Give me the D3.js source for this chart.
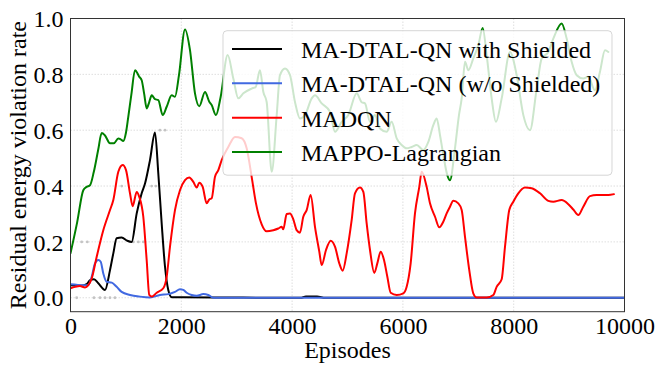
<!DOCTYPE html>
<html>
<head>
<meta charset="utf-8">
<script src="https://cdn.jsdelivr.net/npm/d3@7"></script>
</head>
<body style="margin:0">
<svg id="chart" width="657" height="365" style="font-family: 'Liberation Serif'"></svg>
<script>
// ---- data -------------------------------------------------------------
const seriesNames = [
  "MA-DTAL-QN with Shielded",
  "MA-DTAL-QN (w/o Shielded)",
  "MADQN",
  "MAPPO-Lagrangian"
];
const seriesColors = ["#000000", "#4169e1", "#ff0000", "#008000"];

const xTicks = [0, 2000, 4000, 6000, 8000, 10000];
const yTicks = [0.0, 0.2, 0.4, 0.6, 0.8, 1.0];

// MA-DTAL-QN with Shielded
const shieldedEpisodes = [0, 200, 300, 352, 424, 502, 623, 713, 773, 833, 923, 1025, 1104, 1195, 1285, 1345, 1435, 1525, 1585, 1646, 1706, 1765, 1827, 1900, 2600, 4150, 4250, 4450, 4600, 10000];
const shieldedRate     = [0.045, 0.043, 0.05, 0.063, 0.066, 0.052, 0.028, 0.099, 0.159, 0.213, 0.216, 0.204, 0.2, 0.302, 0.374, 0.409, 0.493, 0.592, 0.445, 0.266, 0.111, 0.028, 0.002, 0.002, 0.001, 0.0, 0.004, 0.004, 0.0, 0.0];

// MA-DTAL-QN (w/o Shielded)
const unshieldedEpisodes = [0, 231, 321, 383, 442, 502, 545, 592, 653, 744, 833, 923, 1074, 1254, 1435, 1615, 1765, 1886, 1976, 2036, 2097, 2187, 2278, 2397, 2487, 2578, 10000];
const unshieldedRate     = [0.048, 0.045, 0.045, 0.075, 0.123, 0.135, 0.129, 0.087, 0.057, 0.054, 0.039, 0.021, 0.01, 0.004, 0.001, 0.01, 0.013, 0.021, 0.03, 0.028, 0.018, 0.01, 0.007, 0.013, 0.01, 0.0, 0.0];

// MADQN
const madqnEpisodes = [0, 81, 171, 262, 321, 383, 473, 592, 713, 773, 863, 942, 1002, 1074, 1122, 1195, 1242, 1314, 1375, 1422, 1466, 1556, 1675, 1736, 1796, 1886, 1976, 2067, 2144, 2217, 2278, 2325, 2386, 2458, 2505, 2548, 2608, 2668, 2729, 2848, 2969, 3090, 3180, 3270, 3348, 3451, 3541, 3661, 3751, 3812, 3841, 3902, 3962, 4022, 4082, 4142, 4202, 4263, 4335, 4413, 4491, 4534, 4612, 4697, 4774, 4852, 4913, 4985, 5075, 5135, 5226, 5286, 5346, 5406, 5484, 5538, 5599, 5659, 5719, 5779, 5888, 6008, 6068, 6140, 6218, 6296, 6339, 6429, 6489, 6580, 6657, 6729, 6790, 6850, 6910, 7000, 7061, 7121, 7198, 7270, 7332, 7512, 7632, 7692, 7783, 7843, 7920, 7993, 8083, 8204, 8324, 8475, 8625, 8715, 8866, 8986, 9076, 9166, 9256, 9377, 9497, 9617, 9707, 9810];
const madqnRate     = [0.034, 0.039, 0.042, 0.037, 0.045, 0.069, 0.147, 0.242, 0.314, 0.35, 0.451, 0.475, 0.457, 0.374, 0.328, 0.379, 0.361, 0.29, 0.135, 0.01, 0.004, 0.018, 0.034, 0.075, 0.183, 0.314, 0.385, 0.421, 0.431, 0.415, 0.395, 0.412, 0.397, 0.338, 0.352, 0.356, 0.433, 0.457, 0.493, 0.54, 0.576, 0.571, 0.535, 0.433, 0.338, 0.263, 0.238, 0.242, 0.248, 0.254, 0.245, 0.3, 0.302, 0.281, 0.242, 0.233, 0.29, 0.314, 0.368, 0.254, 0.165, 0.117, 0.171, 0.204, 0.183, 0.123, 0.097, 0.159, 0.278, 0.374, 0.395, 0.379, 0.266, 0.171, 0.089, 0.123, 0.165, 0.135, 0.075, 0.018, 0.01, 0.016, 0.039, 0.123, 0.302, 0.397, 0.451, 0.397, 0.338, 0.29, 0.252, 0.272, 0.302, 0.326, 0.347, 0.338, 0.314, 0.218, 0.099, 0.016, 0.001, 0.001, 0.01, 0.039, 0.066, 0.183, 0.314, 0.344, 0.374, 0.395, 0.392, 0.374, 0.347, 0.344, 0.35, 0.335, 0.316, 0.296, 0.326, 0.364, 0.368, 0.368, 0.368, 0.371];

// MAPPO-Lagrangian
const mappoEpisodes = [0, 120, 231, 290, 352, 420, 500, 563, 620, 713, 780, 863, 900, 953, 1000, 1043, 1100, 1164, 1242, 1285, 1330, 1375, 1420, 1466, 1525, 1585, 1664, 1736, 1827, 1886, 1958, 2067, 2157, 2247, 2325, 2428, 2505, 2548, 2626, 2711, 2837, 2939, 3029, 3120, 3270, 3343, 3420, 3481, 3541, 3632, 3722, 3781, 3872, 3962, 4052, 4142, 4233, 4354, 4413, 4534, 4684, 4774, 4895, 5015, 5166, 5256, 5316, 5406, 5496, 5586, 5707, 5797, 5888, 5978, 6068, 6159, 6249, 6369, 6459, 6549, 6610, 6670, 6730, 6800, 6850, 6940, 7012, 7061, 7121, 7181, 7271, 7361, 7440, 7512, 7602, 7680, 7783, 7933, 8054, 8174, 8294, 8415, 8505, 8625, 8715, 8866, 8956, 9046, 9137, 9257, 9347, 9467, 9557, 9648, 9708];
const mappoRate     = [0.159, 0.27, 0.385, 0.397, 0.403, 0.45, 0.53, 0.59, 0.582, 0.553, 0.553, 0.57, 0.568, 0.561, 0.59, 0.648, 0.73, 0.815, 0.791, 0.779, 0.73, 0.678, 0.70, 0.725, 0.711, 0.708, 0.654, 0.684, 0.725, 0.72, 0.797, 0.961, 0.887, 0.732, 0.686, 0.737, 0.702, 0.69, 0.654, 0.72, 0.869, 0.785, 0.714, 0.732, 0.749, 0.755, 0.815, 0.737, 0.701, 0.451, 0.654, 0.797, 0.821, 0.797, 0.701, 0.642, 0.654, 0.714, 0.725, 0.696, 0.666, 0.594, 0.63, 0.654, 0.732, 0.70, 0.696, 0.63, 0.654, 0.606, 0.594, 0.63, 0.571, 0.547, 0.535, 0.54, 0.547, 0.529, 0.558, 0.618, 0.642, 0.582, 0.511, 0.44, 0.421, 0.535, 0.654, 0.714, 0.845, 0.815, 0.857, 0.904, 0.966, 0.869, 0.714, 0.63, 0.714, 0.88, 0.797, 0.654, 0.6, 0.749, 0.857, 0.88, 0.928, 0.982, 0.928, 0.845, 0.797, 0.785, 0.791, 0.743, 0.809, 0.886, 0.88];

// faint grey sample markers in the early episodes
const sampleEpisodes = [112, 424, 532, 623, 713, 803, 202, 303, 1134, 1224, 1314, 925, 1465, 1540, 1615, 1706];
const sampleRate     = [0.0, 0.0, 0.0, 0.0, 0.0, 0.0, 0.2, 0.2, 0.2, 0.2, 0.2, 0.4, 0.4, 0.4, 0.6, 0.6];

// ---- layout -----------------------------------------------------------
const plot = { left: 70.5, right: 624.5, top: 18.5, bottom: 311.7 };
const svg = d3.select("#chart").style("display", "block");

// all labels use the same serif face
function serif(sel) {
  return sel
    .attr("font-family", "Liberation Serif")
    .attr("font-size", 24)
    .style("font-family", '"Liberation Serif"')
    .style("font-size", "24px")
    .attr("fill", "#000");
}

const x = d3.scaleLinear().domain([0, 10000]).range([plot.left, plot.right]);
const y = d3.scaleLinear().domain([-0.05, 1.0]).range([plot.bottom, plot.top]);

svg.append("defs").append("clipPath").attr("id", "plot-clip")
  .append("rect")
  .attr("x", plot.left).attr("y", plot.top)
  .attr("width", plot.right - plot.left).attr("height", plot.bottom - plot.top);

// grid
const grid = svg.append("g");
grid.selectAll("line.gx").data(xTicks).join("line")
  .attr("x1", d => x(d)).attr("x2", d => x(d))
  .attr("y1", plot.top).attr("y2", plot.bottom)
  .attr("stroke", "#d6d6d6").attr("stroke-width", 0.8).attr("stroke-dasharray", "1.5,1.5");
grid.selectAll("line.gy").data(yTicks).join("line")
  .attr("x1", plot.left).attr("x2", plot.right)
  .attr("y1", d => y(d)).attr("y2", d => y(d))
  .attr("stroke", "#d6d6d6").attr("stroke-width", 0.8).attr("stroke-dasharray", "1.5,1.5");

// grey sample markers
svg.append("g").selectAll("circle").data(sampleEpisodes).join("circle")
  .attr("cx", (d) => x(d))
  .attr("cy", (d, i) => y(sampleRate[i]))
  .attr("r", 1.4)
  .attr("fill", "#c4c4c4");

// series lines
const series = [
  { ep: shieldedEpisodes, v: shieldedRate },
  { ep: unshieldedEpisodes, v: unshieldedRate },
  { ep: madqnEpisodes, v: madqnRate },
  { ep: mappoEpisodes, v: mappoRate }
];
const line = d3.line()
  .x(d => x(d[0])).y(d => y(d[1]))
  .curve(d3.curveMonotoneX);

const lines = svg.append("g").attr("clip-path", "url(#plot-clip)");
series.forEach((s, i) => {
  const pts = s.ep.map((e, k) => [e, s.v[k]]);
  lines.append("path")
    .datum(pts)
    .attr("d", line)
    .attr("fill", "none")
    .attr("stroke", seriesColors[i])
    .attr("stroke-width", 2)
    .attr("stroke-linejoin", "round")
    .attr("stroke-linecap", "round");
});

// axes (tick labels only; the frame is drawn separately)
const xAxis = d3.axisBottom(x).tickValues(xTicks).tickFormat(d3.format("d")).tickSize(0).tickPadding(0);
const yAxis = d3.axisLeft(y).tickValues(yTicks).tickFormat(d3.format(".1f")).tickSize(0).tickPadding(0);

const gx = svg.append("g").attr("transform", `translate(0,${plot.bottom})`).call(xAxis);
gx.attr("font-family", "Liberation Serif").attr("font-size", 24);
gx.select(".domain").remove();
gx.selectAll("text").attr("y", 22.5).attr("dy", null).call(serif);

const gy = svg.append("g").attr("transform", `translate(${plot.left},0)`).call(yAxis);
gy.attr("font-family", "Liberation Serif").attr("font-size", 24);
gy.select(".domain").remove();
gy.selectAll("text").attr("x", -7).attr("dy", "0.34em").call(serif);

// frame
svg.append("rect")
  .attr("x", plot.left).attr("y", plot.top)
  .attr("width", plot.right - plot.left).attr("height", plot.bottom - plot.top)
  .attr("fill", "none").attr("stroke", "#333").attr("stroke-width", 1);

// axis titles
svg.append("text")
  .attr("x", (plot.left + plot.right) / 2).attr("y", 358)
  .attr("text-anchor", "middle")
  .call(serif)
  .text("Episodes");
svg.append("text")
  .attr("transform", `translate(26,${(plot.top + plot.bottom) / 2}) rotate(-90)`)
  .attr("text-anchor", "middle")
  .call(serif)
  .text("Residual energy violation rate");

// legend
const legend = svg.append("g");
legend.append("rect")
  .attr("x", 223).attr("y", 30.7).attr("width", 389).attr("height", 144.5)
  .attr("rx", 4).attr("ry", 4)
  .attr("fill", "#fff").attr("fill-opacity", 0.8)
  .attr("stroke", "#cccccc").attr("stroke-opacity", 0.8).attr("stroke-width", 1);
const rowY = d3.scalePoint().domain(seriesNames).range([49, 152]);
seriesNames.forEach((name, i) => {
  const ry = rowY(name);
  legend.append("line")
    .attr("x1", 232).attr("x2", 282).attr("y1", ry).attr("y2", ry)
    .attr("stroke", seriesColors[i]).attr("stroke-width", 2);
  legend.append("text")
    .attr("x", 301).attr("y", ry + 9)
    .call(serif)
    .text(name);
});
</script>
</body>
</html>
